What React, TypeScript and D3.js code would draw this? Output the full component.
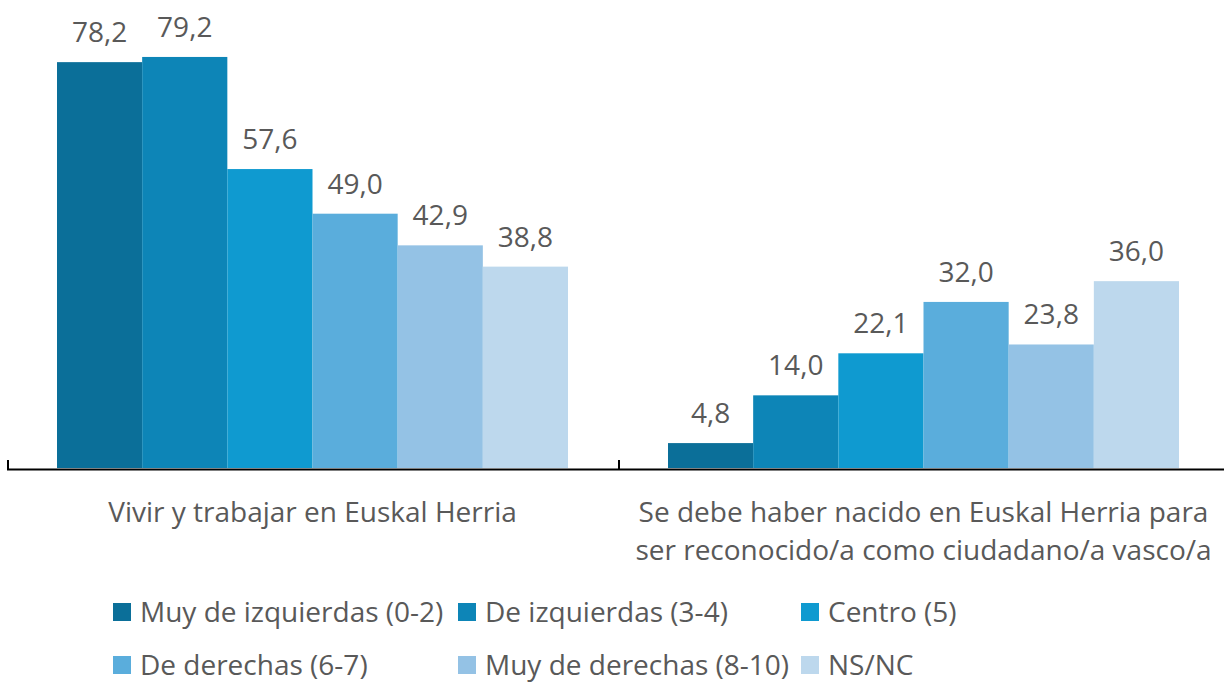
import React from "react";
import * as d3 from "d3";

const categories = [
  ["Vivir y trabajar en Euskal Herria"],
  ["Se debe haber nacido en Euskal Herria para", "ser reconocido/a como ciudadano/a vasco/a"],
];
const seriesNames = [
  "Muy de izquierdas (0-2)",
  "De izquierdas (3-4)",
  "Centro (5)",
  "De derechas (6-7)",
  "Muy de derechas (8-10)",
  "NS/NC",
];
const values = [
  [78.2, 79.2, 57.6, 49.0, 42.9, 38.8],
  [4.8, 14.0, 22.1, 32.0, 23.8, 36.0],
];
const colors = ["#0b6f99", "#0d85b7", "#0f9ad0", "#5aaddc", "#94c2e5", "#bdd8ed"];

const W = 1224;
const H = 683;
const FONT = "'Open Sans', sans-serif";
const TXT = "#595959";
const FS = 28;

export default function App() {
  const x0 = d3.scaleBand<number>().domain([0, 1]).range([7, 1229]).paddingInner(0).paddingOuter(0);
  const bw = x0.bandwidth();
  const x1 = d3.scaleBand<number>().domain(d3.range(6)).range([50, bw - 50]).padding(0);
  const y = d3.scaleLinear().domain([0, 80]).range([468, 468 - 80 * 5.19]);
  const fmt = (v: number) => v.toFixed(1).replace(".", ",");

  const legendX = [113, 458, 801];
  const legendY = [612, 665];

  return (
    <svg width={W} height={H} style={{ position: "absolute", left: 0, top: 0 }} fontFamily={FONT}>
      <rect width={W} height={H} fill="#fff" />
      {values.map((row, ci) =>
        row.map((v, si) => {
          const bx = x0(ci)! + x1(si)!;
          return (
            <g key={`${ci}-${si}`}>
              <rect x={bx} y={y(v)} width={x1.bandwidth()} height={y(0) - y(v)} fill={colors[si]} />
              <text x={bx + x1.bandwidth() / 2} y={y(v) - 20} textAnchor="middle" fontSize={FS} fill={TXT}>
                {fmt(v)}
              </text>
            </g>
          );
        })
      )}
      <line x1={7} x2={1224} y1={469.5} y2={469.5} stroke="#000" strokeWidth={2} />
      {[0, 1].map((ci) => (
        <line key={ci} x1={x0(ci)! + 1} x2={x0(ci)! + 1} y1={460} y2={469} stroke="#000" strokeWidth={2} />
      ))}
      {categories.map((lines, ci) => (
        <text key={ci} x={x0(ci)! + bw / 2} y={522} textAnchor="middle" fontSize={FS} fill={TXT}>
          {lines.map((l, li) => (
            <tspan key={li} x={x0(ci)! + bw / 2} dy={li === 0 ? 0 : 38}>
              {l}
            </tspan>
          ))}
        </text>
      ))}
      {seriesNames.map((name, i) => {
        const lx = legendX[i % 3];
        const ly = legendY[Math.floor(i / 3)];
        return (
          <g key={name}>
            <rect x={lx} y={ly - 9} width={18} height={18} fill={colors[i]} />
            <text x={lx + 27} y={ly + 10} fontSize={FS} fill={TXT}>
              {name}
            </text>
          </g>
        );
      })}
    </svg>
  );
}
